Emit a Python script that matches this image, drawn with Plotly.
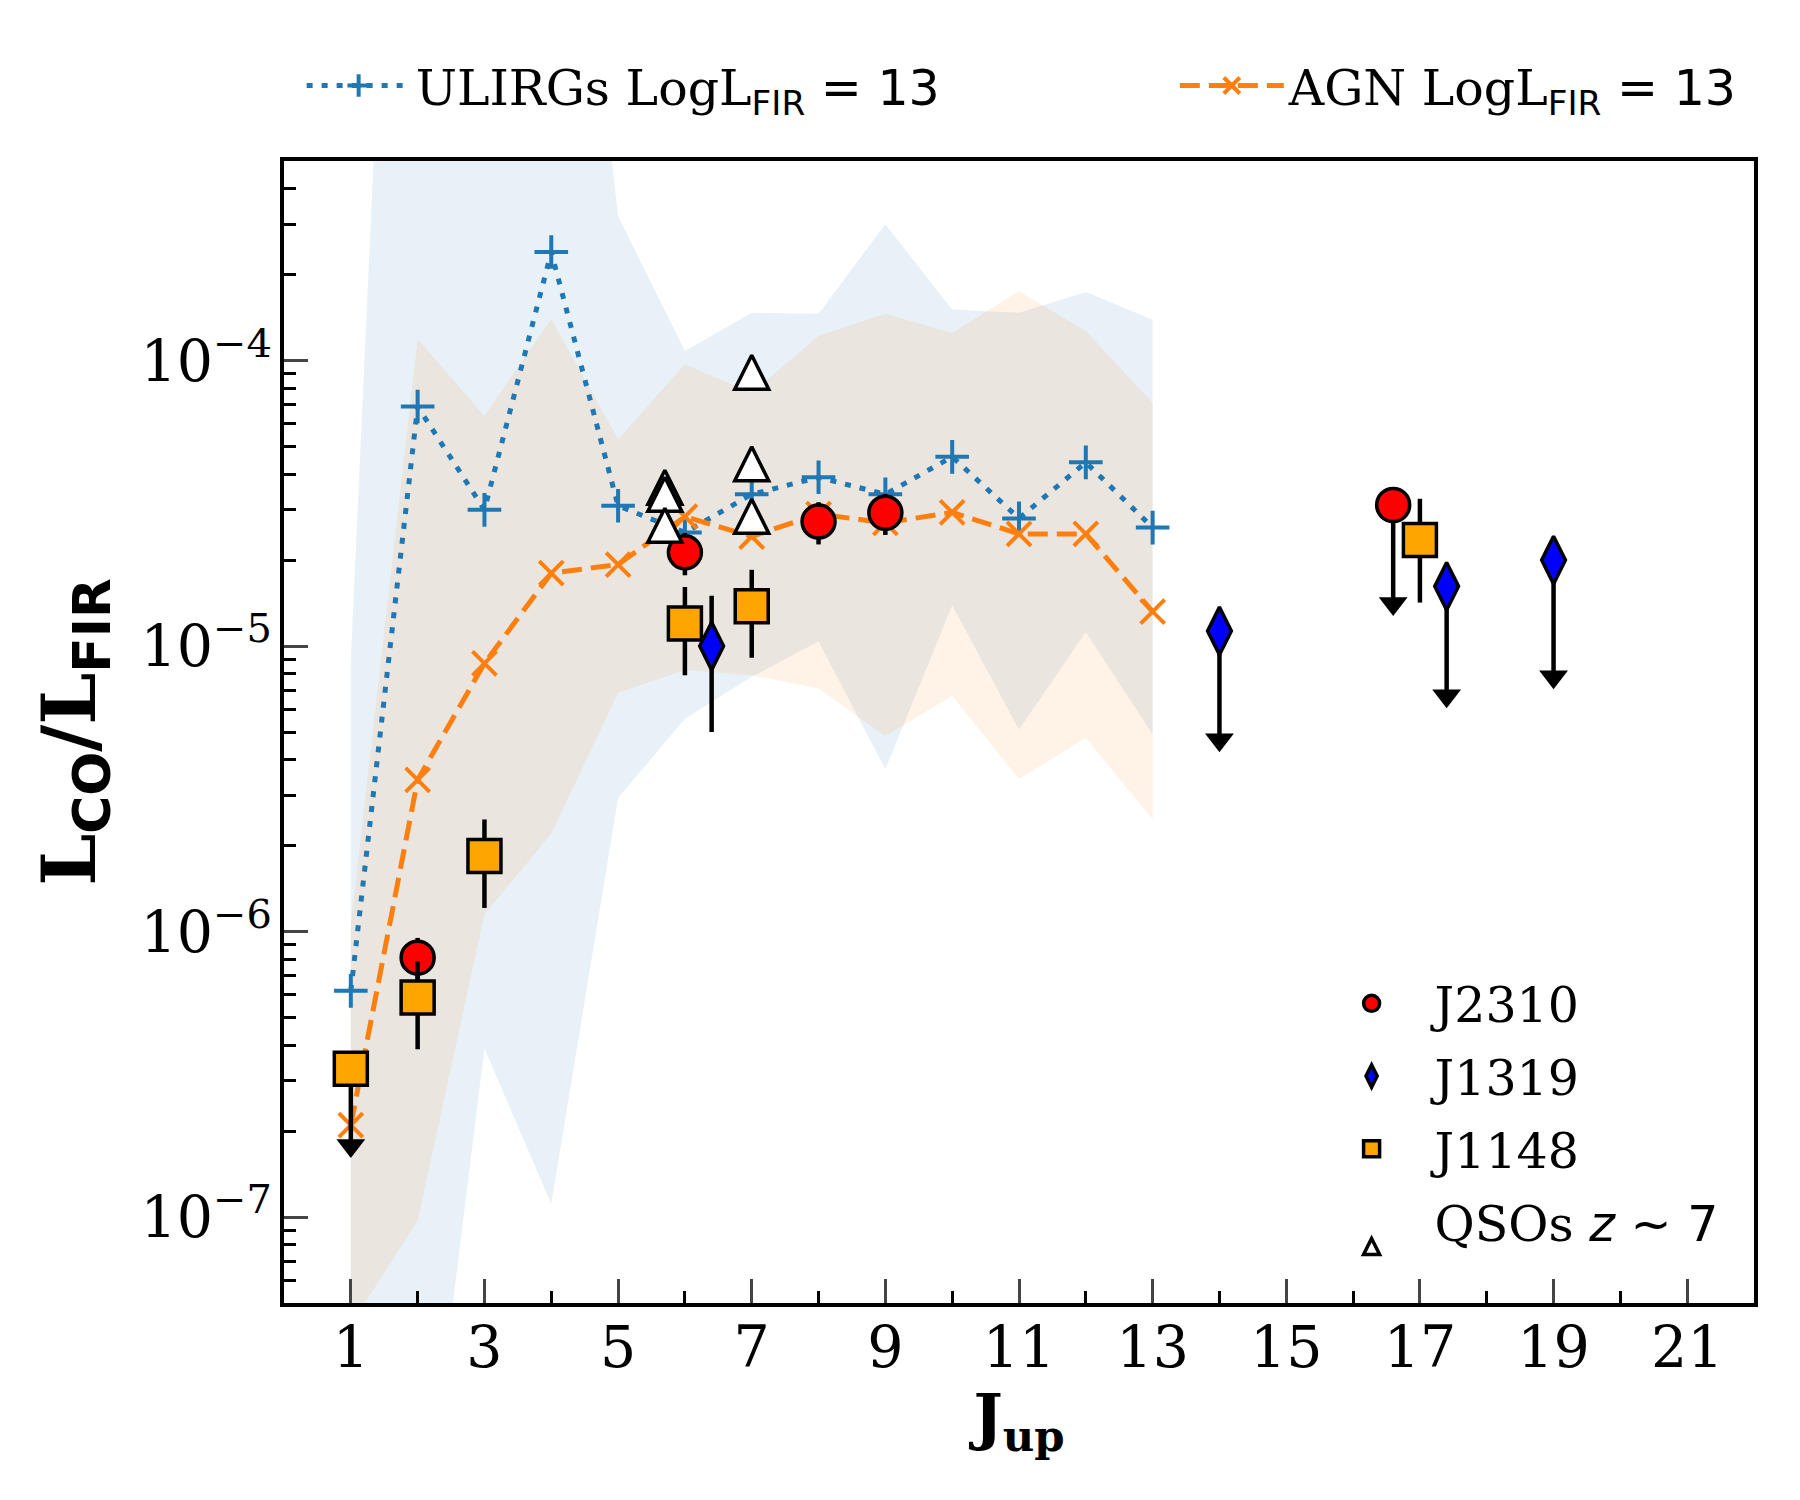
import plotly.graph_objects as go

# --- model predictions (Jup = 1..13) ---
j_model = [1, 2, 3, 4, 5, 6, 7, 8, 9, 10, 11, 12, 13]
ulirg_ratio = [6.2e-7, 6.9e-5, 3.0e-5, 2.4e-4, 3.1e-5, 2.5e-5, 3.4e-5, 3.9e-5,
               3.4e-5, 4.6e-5, 2.8e-5, 4.4e-5, 2.6e-5]
ulirg_upper = [9.0e-6, 1.2, 5.0e-2, 4.0e-2, 3.2e-4, 1.08e-4, 1.47e-4, 1.46e-4,
               3.0e-4, 1.51e-4, 1.47e-4, 1.74e-4, 1.39e-4]
ulirg_lower = [1.0e-8, 5.0e-9, 3.9e-7, 1.11e-7, 2.94e-6, 5.56e-6, 7.8e-6, 1.04e-5,
               3.7e-6, 1.39e-5, 5.1e-6, 1.12e-5, 4.9e-6]
agn_ratio = [2.1e-7, 3.4e-6, 8.7e-6, 1.8e-5, 1.93e-5, 2.84e-5, 2.42e-5, 2.9e-5,
             2.7e-5, 2.94e-5, 2.47e-5, 2.47e-5, 1.32e-5]
agn_upper = [1.06e-6, 1.19e-4, 6.4e-5, 1.4e-4, 5.3e-5, 9.7e-5, 7.7e-5, 1.22e-4,
             1.46e-4, 1.25e-4, 1.75e-4, 1.27e-4, 7.1e-5]
agn_lower = [4.2e-8, 9.7e-8, 1.15e-6, 2.2e-6, 6.86e-6, 8.24e-6, 7.9e-6, 7.1e-6,
             4.84e-6, 6.7e-6, 3.42e-6, 4.77e-6, 2.47e-6]

# --- observations ---
j2310_j = [2, 6, 8, 9]
j2310_ratio = [8.1e-7, 2.13e-5, 2.73e-5, 2.93e-5]
j2310_err = [1.4e-7, 3.6e-6, 4.6e-6, 4.8e-6]
j2310_lim_j = [16.6]
j2310_lim = [3.12e-5]
j2310_lim_end = [1.41e-5]

j1319_j = [6.4]
j1319_ratio = [1.0e-5]
j1319_err = [5.0e-6]
j1319_lim_j = [14, 17.4, 19]
j1319_lim = [1.13e-5, 1.62e-5, 2.0e-5]
j1319_lim_end = [4.7e-6, 6.7e-6, 7.8e-6]

j1148_j = [2, 3, 6, 7, 17]
j1148_ratio = [5.87e-7, 1.84e-6, 1.2e-5, 1.38e-5, 2.35e-5]
j1148_err = [2.0e-7, 6.3e-7, 4.1e-6, 4.7e-6, 9.3e-6]
j1148_lim_j = [1]
j1148_lim = [3.31e-7]
j1148_lim_end = [1.78e-7]

qso_j = [5.7, 5.7, 5.7, 7, 7, 7]
qso_ratio = [3.6e-5, 3.4e-5, 2.65e-5, 9.1e-5, 4.35e-5, 2.85e-5]

x_ticks = [1, 3, 5, 7, 9, 11, 13, 15, 17, 19, 21]
y_ticks = [1e-7, 1e-6, 1e-5, 1e-4]
y_ticktext = ["10<sup>\u22127</sup>", "10<sup>\u22126</sup>",
              "10<sup>\u22125</sup>", "10<sup>\u22124</sup>"]

BLUE = "#1f77b4"
ORANGE = "#ff7f0e"
SANS_SPAN = "<span style='font-family:DejaVu Sans'>{}</span>"

fig = go.Figure()

# shaded model ranges
fig.add_trace(go.Scatter(
    x=j_model + j_model[::-1], y=ulirg_upper + ulirg_lower[::-1],
    fill="toself", fillcolor="rgba(31,119,180,0.1)", mode="lines",
    line=dict(width=0), showlegend=False, hoverinfo="skip"))
fig.add_trace(go.Scatter(
    x=j_model + j_model[::-1], y=agn_upper + agn_lower[::-1],
    fill="toself", fillcolor="rgba(255,127,14,0.1)", mode="lines",
    line=dict(width=0), showlegend=False, hoverinfo="skip"))

fig.add_trace(go.Scatter(
    x=j_model, y=ulirg_ratio, mode="lines+markers",
    name="ULIRGs LogL<sub>" + SANS_SPAN.format("FIR") + "</sub>"
         + SANS_SPAN.format(" = 13"),
    line=dict(color=BLUE, width=5, dash="6px,9px"),
    marker=dict(symbol="cross-thin", size=24, line=dict(width=4, color=BLUE)),
    legend="legend"))
fig.add_trace(go.Scatter(
    x=j_model, y=agn_ratio, mode="lines+markers",
    name="AGN LogL<sub>" + SANS_SPAN.format("FIR") + "</sub>"
         + SANS_SPAN.format(" = 13"),
    line=dict(color=ORANGE, width=5, dash="20px,9px"),
    marker=dict(symbol="x-thin", size=24, line=dict(width=4, color=ORANGE)),
    legend="legend3"))


def add_source(name, xs, ys, errs, lim_x, lim_y, lim_end, symbol, size, color):
    mk = dict(symbol=symbol, size=size, color=color,
              line=dict(width=3.5, color="black"))
    # upper limits: stem down to the arrow head
    fig.add_trace(go.Scatter(
        x=lim_x, y=lim_y, mode="markers", marker=mk, showlegend=False,
        legend="legend2", legendgroup=name,
        error_y=dict(type="data", symmetric=False, array=[0] * len(lim_y),
                     arrayminus=[a - b for a, b in zip(lim_y, lim_end)],
                     color="black", thickness=4.5, width=0)))
    fig.add_trace(go.Scatter(
        x=lim_x, y=lim_end, mode="markers", showlegend=False,
        legendgroup=name, legend="legend2",
        marker=dict(symbol="triangle-down", size=25, color="black")))
    fig.add_trace(go.Scatter(
        x=xs, y=ys, mode="markers", name=name, marker=mk,
        legend="legend2", legendgroup=name,
        error_y=dict(type="data", array=errs, color="black",
                     thickness=4.5, width=0)))


add_source("J2310", j2310_j, j2310_ratio, j2310_err,
           j2310_lim_j, j2310_lim, j2310_lim_end, "circle", 33, "red")
add_source("J1319", j1319_j, j1319_ratio, j1319_err,
           j1319_lim_j, j1319_lim, j1319_lim_end, "diamond-tall", 34, "blue")
add_source("J1148", j1148_j, j1148_ratio, j1148_err,
           j1148_lim_j, j1148_lim, j1148_lim_end, "square", 33, "orange")

fig.add_trace(go.Scatter(
    x=qso_j, y=qso_ratio, mode="markers",
    name="QSOs <i>" + SANS_SPAN.format("z") + "</i>" + SANS_SPAN.format(" ~ 7"),
    marker=dict(symbol="arrow-down", angle=180, standoff=17, size=34,
                color="white", line=dict(width=3.5, color="black")),
    legend="legend2", legendgroup="qso"))

top_legend = dict(orientation="h", xanchor="left", y=1.066, yanchor="middle",
                  font=dict(size=49), bgcolor="rgba(0,0,0,0)", itemwidth=104)

# the page body adds 8px, so the figure is 8px smaller than the window
fig.update_layout(
    width=1792, height=1492,
    margin=dict(l=276, r=46, t=153, b=197, autoexpand=False),
    plot_bgcolor="white", paper_bgcolor="white",
    font=dict(family="DejaVu Serif", size=50, color="black"),
    legend=dict(top_legend, x=0.012),
    legend3=dict(top_legend, x=0.606),
    legend2=dict(orientation="v", x=0.697, xanchor="left", y=0.296, yanchor="top",
                 font=dict(size=49), bgcolor="rgba(0,0,0,0)",
                 itemwidth=116, tracegroupgap=6),
)

fig.update_xaxes(
    range=[0, 22], tickvals=x_ticks, ticks="inside", ticklen=24, tickwidth=3,
    minor=dict(tickvals=[2, 4, 6, 8, 10, 12, 14, 16, 18, 20], ticks="inside",
               ticklen=12, tickwidth=3, tickcolor="black"),
    showline=True, linecolor="black", linewidth=3.5, mirror=True,
    showgrid=False, zeroline=False, tickfont=dict(size=57),
    ticklabelstandoff=-8,
    title=dict(text="<b>J<sub>up</sub></b>", font=dict(size=62), standoff=0),
    automargin=False)

y_minor = [k * 10.0 ** e for e in range(-8, -3) for k in range(2, 10)]
fig.update_yaxes(
    type="log", range=[-7.301, -3.301], tickvals=y_ticks, ticktext=y_ticktext,
    ticks="inside", ticklen=24, tickwidth=3,
    minor=dict(tickvals=y_minor, ticks="inside", ticklen=12, tickwidth=3,
               tickcolor="black"),
    showline=True, linecolor="black", linewidth=3.5, mirror=True,
    showgrid=False, zeroline=False, tickfont=dict(size=57),
    ticklabelstandoff=-3,
    title=dict(text="<b>L<sub>" + SANS_SPAN.format("CO") + "</sub>/L<sub>"
                    + SANS_SPAN.format("FIR") + "</sub></b>",
               font=dict(size=74), standoff=22),
    automargin=False)

fig.write_html("out.html")
